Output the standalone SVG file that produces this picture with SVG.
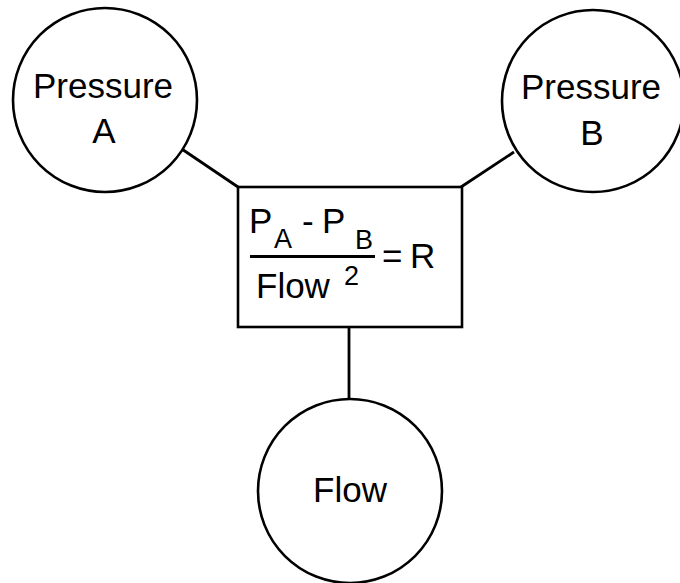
<svg xmlns="http://www.w3.org/2000/svg" width="680" height="583" viewBox="0 0 680 583">
<style>
.n{fill:#fff;stroke:#000;stroke-width:2.6}
.c{stroke:#000;stroke-width:2.8;fill:none}
text{font-family:"Liberation Sans",Arial,sans-serif;fill:#000}
.t{font-size:35px;text-anchor:middle}
.f{font-size:35px}
.s{font-size:27px}
</style>
<rect width="680" height="583" fill="#fff"/>
<g id="connectors">
<line class="c" x1="182.5" y1="149.5" x2="238" y2="187"/>
<line class="c" x1="514" y1="152" x2="461" y2="187"/>
<line class="c" x1="349" y1="327" x2="349" y2="399"/>
</g>
<g id="pressureA">
<circle class="n" cx="105" cy="100" r="92"/>
<text class="t" x="103" y="98">Pressure</text>
<text class="t" x="104" y="143">A</text>
</g>
<g id="pressureB">
<circle class="n" cx="593" cy="101" r="91"/>
<text class="t" x="591" y="99">Pressure</text>
<text class="t" x="592" y="145">B</text>
</g>
<g id="equation">
<rect class="n" x="238" y="187" width="224" height="140"/>
<text class="f" x="249" y="233">P</text>
<text class="s" x="274" y="248">A</text>
<text class="f" x="302" y="233">-</text>
<text class="f" x="322" y="233">P</text>
<text class="s" x="355" y="249">B</text>
<line x1="250" y1="256.5" x2="375" y2="256.5" stroke="#000" stroke-width="3"/>
<text class="f" x="382" y="268">=</text>
<text class="f" x="410" y="268">R</text>
<text class="f" x="256" y="298">Flow</text>
<text class="s" x="344" y="285">2</text>
</g>
<g id="flow">
<circle class="n" cx="350" cy="491" r="92"/>
<text class="t" x="350" y="502">Flow</text>
</g>
</svg>
